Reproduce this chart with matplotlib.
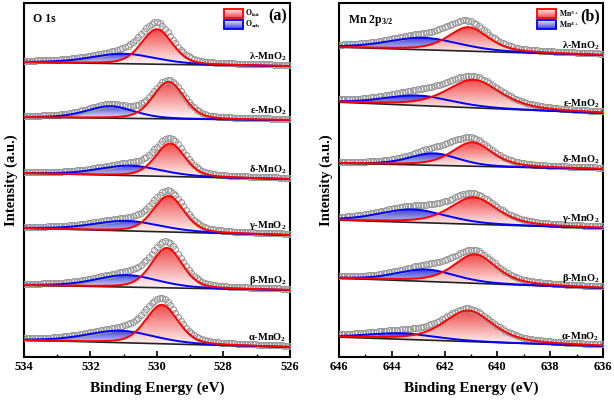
import numpy as np
import matplotlib
matplotlib.use("Agg")
import matplotlib.pyplot as plt
from matplotlib.colors import LinearSegmentedColormap
from matplotlib.patches import Rectangle

plt.rcParams["font.family"] = ["Liberation Serif", "DejaVu Serif"]
plt.rcParams["font.weight"] = "bold"
plt.rcParams["axes.labelweight"] = "bold"
plt.rcParams["mathtext.fontset"] = "custom"
plt.rcParams["mathtext.rm"] = "Liberation Serif:bold"
plt.rcParams["mathtext.it"] = "Liberation Serif:bold"
plt.rcParams["mathtext.bf"] = "Liberation Serif:bold"

# =========================
# data (stacked bottom -> top), intensity in a.u.
# =========================
samples = ["α", "β", "γ", "δ", "ε", "λ"]

# O 1s panel
o_bg_left = [17, 72, 129, 184, 240, 295]
o_bg_right = [10, 67, 122, 178, 237, 291]
o_latt_center = [529.85, 529.70, 529.65, 529.60, 529.65, 530.00]
o_latt_fwhm = [1.15, 1.10, 1.10, 1.05, 1.10, 1.10]
o_latt_height = [39, 40, 36, 33, 37, 35]
o_ads_center = [531.1, 530.9, 530.9, 530.8, 531.4, 531.0]
o_ads_fwhm = [2.4, 2.2, 2.4, 2.2, 1.7, 2.3]
o_ads_height = [12, 12, 10, 10, 12, 10]

# Mn 2p3/2 panel
mn_bg_left = [20, 79, 137, 194, 255, 310]
mn_bg_right = [11, 69, 129, 188, 244, 302]
mn3_center = [641.1, 640.85, 640.9, 640.95, 640.9, 641.1]
mn3_fwhm = [2.2, 1.9, 2.1, 1.8, 2.4, 1.8]
mn3_height = [31, 29, 27, 24, 28, 24]
mn4_center = [643.6, 642.7, 643.2, 642.4, 643.0, 642.8]
mn4_fwhm = [3.0, 2.6, 3.0, 2.2, 3.0, 3.2]
mn4_height = [6, 12, 13, 12, 10, 12]


def pv(x, c, w, h, eta=0.3):
    g = np.exp(-4 * np.log(2) * ((x - c) / w) ** 2)
    l = 1 / (1 + 4 * ((x - c) / w) ** 2)
    return h * ((1 - eta) * g + eta * l)


def grad_fill(ax, x, base, top, color):
    poly, = ax.fill(np.r_[x, x[::-1]], np.r_[top, base[::-1]],
                    facecolor="none", edgecolor="none")
    cmap = LinearSegmentedColormap.from_list("g", ["white", color])
    grad = np.linspace(0, 1, 200).reshape(-1, 1)
    im = ax.imshow(grad, extent=[x.min(), x.max(), base.min(), top.max()],
                   origin="lower", aspect="auto", cmap=cmap, zorder=2)
    im.set_clip_path(poly)


def legend_box(ax, x0, y0, color, edge, label):
    cmap = LinearSegmentedColormap.from_list("g", [color, "white"])
    grad = np.linspace(0, 1, 50).reshape(-1, 1)
    w, h = 0.072, 0.026
    ax.imshow(grad, extent=[x0, x0 + w, y0, y0 + h], origin="lower",
              aspect="auto", cmap=cmap, transform=ax.transAxes, zorder=6)
    ax.add_patch(Rectangle((x0, y0), w, h, transform=ax.transAxes,
                           fill=False, edgecolor=edge, lw=1.3, zorder=7))
    ax.text(x0 + w + 0.008, y0 + h / 2, label, transform=ax.transAxes,
            fontsize=5.5, va="center", ha="left", zorder=7)


def panel(ax, xlim, step, eta, bgL, bgR, rc, rw, rh, bc, bw, bh):
    x = np.arange(xlim[1], xlim[0] + 1e-6, 0.02)
    xs = np.arange(xlim[1], xlim[0] + 1e-6, step)
    for i in range(len(samples)):
        bg = bgR[i] + (bgL[i] - bgR[i]) * (x - xlim[1]) / (xlim[0] - xlim[1])
        bgs = bgR[i] + (bgL[i] - bgR[i]) * (xs - xlim[1]) / (xlim[0] - xlim[1])
        red = pv(x, rc[i], rw[i], rh[i], eta)
        blue = pv(x, bc[i], bw[i], bh[i])
        env = bgs + pv(xs, rc[i], rw[i], rh[i], eta) + pv(xs, bc[i], bw[i], bh[i])
        ax.plot(xs, env + 1, "o", ms=4.3, mfc="none", mec="#999999", mew=0.8, zorder=3)
        grad_fill(ax, x, bg, bg + blue, "#3b3bd6")
        grad_fill(ax, x, bg, bg + red, "#f04848")
        ax.plot(x, bg, color="#222222", lw=1.2, zorder=4)
        ax.plot(x, bg + blue, color="#0000ff", lw=1.4, zorder=4)
        ax.plot(x, bg + red, color="#ff0000", lw=1.4, zorder=5)
        ax.text(xlim[1] + (xlim[0] - xlim[1]) * 0.012, bgR[i] + 3,
                samples[i] + "-MnO$_2$", ha="right", va="bottom",
                fontsize=7.5, zorder=6)
    ax.set_xlim(xlim)
    ax.set_ylim(0, 354)
    ax.set_yticks([])
    ax.set_xticks(np.arange(xlim[1], xlim[0] + 1, 2))
    ax.set_xticks(np.arange(xlim[1], xlim[0] + 1, 1), minor=True)
    ax.tick_params(axis="x", which="major", direction="in", length=4,
                   width=1.2, labelsize=9, pad=3, top=False)
    ax.tick_params(axis="x", which="minor", direction="in", length=2.5,
                   width=1.0, top=False)
    for s in ax.spines.values():
        s.set_linewidth(1.5)
    ax.set_xlabel("Binding Energy (eV)", fontsize=11, labelpad=6)
    ax.set_ylabel("Intensity (a.u.)", fontsize=10.5, labelpad=4)


fig = plt.figure(figsize=(6.14, 4.04), dpi=100)
ax1 = fig.add_axes([0.039, 0.116, 0.433, 0.876])
ax2 = fig.add_axes([0.552, 0.116, 0.430, 0.876])

panel(ax1, (534, 526), 0.08, 0.3, o_bg_left, o_bg_right,
      o_latt_center, o_latt_fwhm, o_latt_height,
      o_ads_center, o_ads_fwhm, o_ads_height)
panel(ax2, (646, 636), 0.1, 0.5, mn_bg_left, mn_bg_right,
      mn3_center, mn3_fwhm, mn3_height,
      mn4_center, mn4_fwhm, mn4_height)

ax1.text(0.035, 0.955, "O 1s", transform=ax1.transAxes, fontsize=8.5, va="center")
ax1.text(0.988, 0.963, "(a)", transform=ax1.transAxes, fontsize=11.5, ha="right", va="center")
legend_box(ax1, 0.752, 0.958, "#f04848", "#ff0000", "O$_{\\mathregular{latt}}$")
legend_box(ax1, 0.752, 0.926, "#3b3bd6", "#0000ff", "O$_{\\mathregular{ads}}$")

ax2.text(0.035, 0.95, "Mn 2p$_{3/2}$", transform=ax2.transAxes, fontsize=8.5, va="center")
ax2.text(0.988, 0.963, "(b)", transform=ax2.transAxes, fontsize=11.5, ha="right", va="center")
legend_box(ax2, 0.752, 0.958, "#f04848", "#ff0000", "Mn$^{3+}$")
legend_box(ax2, 0.752, 0.926, "#3b3bd6", "#0000ff", "Mn$^{4+}$")

fig.savefig("out.png", dpi=100)
